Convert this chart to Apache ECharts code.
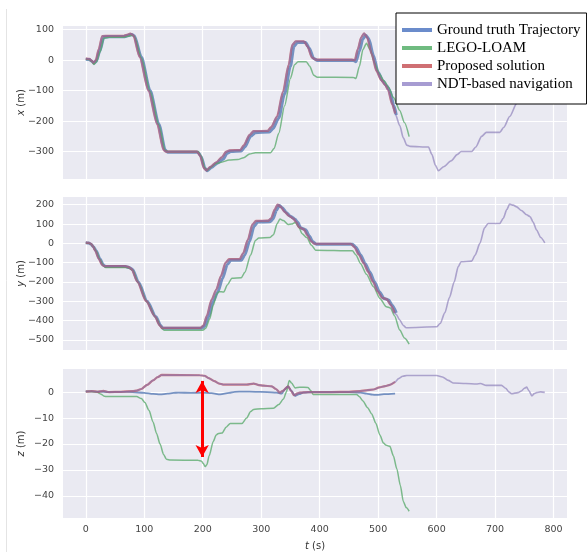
<!DOCTYPE html>
<html><head><meta charset="utf-8">
<script src="https://cdn.jsdelivr.net/npm/echarts@6/dist/echarts.min.js"></script>
<style>html,body{margin:0;padding:0;background:#fff}#c{width:587px;height:552px}</style>
</head><body><div id="c"></div>
<script>
// ---------- data ----------
const seriesNames = ['Ground truth Trajectory', 'LEGO-LOAM', 'Proposed solution', 'NDT-based navigation'];
const xTicks = [0, 100, 200, 300, 400, 500, 600, 700, 800];
const xPosTicks = [-300, -200, -100, 0, 100];
const yPosTicks = [-500, -400, -300, -200, -100, 0, 100, 200];
const zPosTicks = [-40, -30, -20, -10, 0];

// x(t)
const gtX = [[0,3],[6,2],[10,-3],[14,-10],[18,-4],[24,30],[31,75],[40,77],[65,77],[72,80],[79,84],[83,80],[95,10],[110,-100],[125,-210],[136,-295],[140,-302],[192,-302],[197,-315],[204,-355],[208,-363],[215,-352],[225,-338],[235,-325],[242,-305],[248,-300],[266,-298],[272,-285],[282,-250],[290,-238],[314,-236],[320,-225],[330,-190],[340,-110],[350,-20],[356,45],[362,58],[376,58],[382,40],[390,5],[396,-1],[458,-1],[462,-5],[468,30],[474,70],[479,82],[484,70],[492,15],[500,-40],[508,-68],[515,-85],[520,-100],[527,-150],[531,-180]];
const lgX = [[0,3],[6,2],[10,-4],[14,-14],[18,-6],[24,25],[31,72],[40,75],[65,75],[72,78],[79,82],[83,78],[95,8],[110,-102],[125,-212],[136,-296],[140,-300],[192,-300],[197,-314],[204,-355],[208,-362],[215,-350],[222,-340],[232,-335],[245,-328],[260,-326],[270,-320],[280,-308],[290,-304],[316,-304],[322,-290],[330,-240],[340,-150],[350,-60],[357,-15],[363,-5],[377,-5],[383,-20],[390,-50],[396,-56],[458,-57],[462,-60],[468,-20],[474,35],[480,55],[486,35],[494,-10],[502,-45],[510,-68],[518,-90],[526,-122],[537,-165],[545,-205],[553,-251]];
const prX = [[0,5],[6,4],[10,-2],[13,-8],[17,0],[22,35],[28,79],[40,80],[65,80],[70,83],[76,87],[81,82],[92,10],[107,-100],[122,-210],[133,-295],[137,-300],[190,-300],[195,-312],[202,-355],[206,-362],[213,-350],[223,-335],[233,-318],[240,-300],[246,-296],[264,-295],[270,-280],[280,-245],[287,-233],[311,-232],[317,-220],[327,-185],[337,-105],[347,-15],[353,50],[359,62],[373,62],[379,45],[387,8],[393,2],[455,2],[460,0],[465,35],[471,75],[476,88],[481,75],[489,20],[497,-35],[505,-65],[512,-82],[517,-98],[524,-145],[529,-175]];
const ndtXTail = [[537,-215],[543,-255],[549,-279],[555,-283],[586,-285],[592,-310],[598,-345],[603,-363],[612,-350],[625,-330],[635,-310],[642,-300],[660,-300],[667,-285],[677,-250],[685,-237],[708,-237],[715,-220],[725,-185],[737,-142],[745,-90],[752,-20],[758,50],[764,62],[772,60],[778,30],[785,5]];

// y(t)
const gtY = [[0,3],[5,2],[9,-5],[13,-17],[18,-40],[24,-80],[30,-112],[34,-120],[68,-120],[74,-125],[80,-135],[90,-200],[105,-300],[120,-380],[128,-425],[132,-440],[198,-440],[203,-430],[210,-380],[218,-300],[226,-250],[234,-180],[242,-110],[248,-88],[266,-88],[272,-60],[280,10],[288,90],[294,110],[315,112],[320,125],[326,170],[331,196],[336,185],[343,160],[350,140],[358,125],[362,110],[368,80],[376,70],[382,40],[388,10],[394,-4],[456,-4],[462,-20],[470,-60],[478,-105],[486,-150],[494,-200],[502,-250],[510,-285],[518,-293],[524,-320],[531,-360]];
const lgY = [[0,3],[5,2],[9,-5],[13,-17],[18,-42],[24,-82],[30,-115],[34,-125],[68,-125],[74,-128],[80,-138],[90,-205],[105,-305],[120,-385],[128,-430],[134,-450],[200,-450],[205,-440],[212,-390],[218,-320],[224,-262],[228,-250],[236,-252],[242,-215],[250,-180],[266,-178],[272,-150],[282,-60],[290,15],[296,28],[315,30],[321,45],[327,100],[332,126],[338,118],[346,98],[352,100],[358,108],[364,85],[370,50],[378,30],[386,-10],[393,-35],[456,-38],[462,-60],[470,-105],[480,-160],[492,-224],[503,-285],[514,-328],[521,-334],[528,-375],[537,-449],[545,-490],[553,-521]];
const prY = [[0,4],[5,3],[9,-3],[12,-14],[16,-38],[22,-80],[28,-112],[32,-118],[66,-118],[72,-122],[78,-132],[88,-198],[103,-298],[118,-378],[126,-423],[130,-437],[196,-437],[201,-426],[207,-375],[215,-292],[223,-240],[231,-170],[239,-100],[245,-82],[263,-82],[269,-52],[277,18],[285,98],[291,116],[312,118],[317,130],[323,175],[328,201],[333,190],[340,163],[347,143],[355,128],[359,113],[365,83],[373,72],[379,42],[385,12],[391,-2],[453,-2],[459,-18],[467,-58],[475,-102],[483,-148],[491,-198],[499,-248],[507,-282],[515,-290],[521,-318],[528,-360]];
const ndtYTail = [[531,-368],[537,-397],[543,-425],[548,-437],[600,-432],[606,-415],[614,-360],[622,-280],[630,-200],[637,-120],[642,-95],[660,-92],[666,-60],[674,0],[682,80],[688,103],[708,103],[714,130],[720,175],[725,203],[731,198],[737,189],[745,170],[754,148],[760,138],[765,110],[771,69],[778,30],[785,3]];

// z(t)
const gtZ = [[0,0.3],[20,0.2],[40,0],[60,0.1],[80,0],[100,-0.3],[115,-0.7],[127,-0.9],[140,-0.6],[150,-0.3],[158,-0.2],[180,-0.3],[200,-0.2],[215,-0.4],[230,-0.9],[245,-0.3],[255,0.1],[270,0.2],[290,0.1],[310,0],[326,-0.2],[335,-0.6],[341,1.2],[346,2.2],[352,0.5],[358,-1.5],[365,-0.8],[372,-0.2],[390,0],[420,0],[450,0],[470,-0.2],[480,-0.6],[490,-1],[497,-1.1],[510,-0.8],[529,-0.6]];
const lgZ = [[0,0.2],[10,0.2],[19,0],[26,-0.8],[32,-1.6],[36,-1.7],[87,-1.7],[95,-2.5],[101,-4],[108,-7],[115,-11.5],[121,-15.9],[127,-20],[133,-24],[138,-25.9],[145,-26.2],[192,-26.3],[198,-26.6],[201,-27.5],[204,-28.7],[207,-28],[211,-24.5],[218,-19],[223,-16.5],[227,-15.9],[233,-15.8],[240,-13.5],[247,-12.1],[267,-12.1],[275,-10],[282,-7.5],[287,-6.7],[300,-6.4],[321,-6.2],[330,-4.8],[338,-2.7],[343,0],[348,4.5],[352,3.5],[358,1.6],[366,1.9],[380,1.8],[385,0.5],[389,-0.9],[463,-0.9],[468,-1.8],[474,-3.4],[482,-6],[489,-8.4],[496,-12],[503,-16.5],[509,-19.6],[514,-20.5],[520,-20.9],[526,-24.5],[532,-29.6],[538,-36],[543,-42.1],[548,-44.5],[553,-45.9]];
const prZ = [[0,0.2],[10,0.4],[20,0.1],[30,0.5],[40,0],[60,0.1],[80,0.4],[87,0.6],[95,1.2],[105,2.8],[115,4.5],[123,5.8],[130,6.6],[195,6.5],[203,6.3],[210,5.4],[220,4.2],[228,3.3],[235,2.9],[275,2.9],[287,3.3],[296,2.7],[304,2.5],[318,2.2],[325,1.2],[332,-0.2],[337,0.5],[346,2.2],[351,0.5],[356,-1.2],[362,-0.5],[366,-0.2],[380,0],[420,0],[450,0.1],[469,0.4],[480,0.7],[492,1.0],[502,1.8],[512,2.3],[520,2.8],[529,3.9]];
const ndtZTail = [[535,5.2],[542,6.1],[549,6.4],[600,6.4],[610,5.8],[620,4.5],[628,3.5],[650,3.3],[668,3.1],[675,3.3],[685,2.6],[711,2.6],[718,1.5],[724,0],[728,-0.6],[739,-0.2],[745,0.4],[750,1.5],[754,1.9],[758,0.5],[763,-1.5],[767,-0.6],[771,-0.2],[778,0.1],[785,-0.1]];

// annotation arrow: [t, zTop, zBottom]
const arrowSpan = [199, 4.3, -25];

// ---------- build ----------
const ndtX = prX.concat(ndtXTail);
const ndtY = prY.concat(ndtYTail);
const ndtZ = prZ.concat(ndtZTail);

const colors = ['#4C72B0', '#55A868', '#C44E52', '#8172B2'];
const legendColors = ['#6b8ccb', '#6fbb80', '#cf6f73', '#a79cd2'];
const widthsXY = [3, 1.5, 2.2, 1.6];
const widthsZ = [1.8, 1.5, 2.2, 1.6];
const opac = [0.75, 0.75, 0.7, 0.6];

const tickFont = {fontFamily: 'DejaVu Sans', fontSize: 9.5, color: '#444'};
const minus = v => String(v).replace('-', '\u2212');

const grids = [
  {left: 63, top: 26, width: 504, height: 153},
  {left: 63, top: 197, width: 504, height: 153},
  {left: 63, top: 369, width: 504, height: 153}
].map(g => Object.assign(g, {show: true, backgroundColor: '#EAEAF2', borderWidth: 0, containLabel: false}));

const split = {show: true, lineStyle: {color: '#ffffff', width: 1.2}};
const nameStyle = {fontFamily: 'DejaVu Sans', fontSize: 10, color: '#333',
  rich: {i: {fontStyle: 'italic', fontFamily: 'DejaVu Sans', fontSize: 10, color: '#333'}}};

const xAxes = [0, 1, 2].map(i => ({
  type: 'value', gridIndex: i, min: -39, max: 823,
  axisLine: {show: false},
  axisTick: {show: false, customValues: xTicks},
  axisLabel: Object.assign({show: i === 2, customValues: xTicks, margin: 7, formatter: minus}, tickFont),
  splitLine: split,
  name: i === 2 ? '{i|t} (s)' : '',
  nameLocation: 'middle', nameGap: 23, nameMoveOverlap: false,
  nameTextStyle: nameStyle
}));

const yDefs = [
  {min: -390, max: 112, ticks: xPosTicks, name: '{i|x} (m)'},
  {min: -552, max: 240, ticks: yPosTicks, name: '{i|y} (m)'},
  {min: -48.5, max: 8.9, ticks: zPosTicks, name: '{i|z} (m)'}
];
const yAxes = yDefs.map((d, i) => ({
  type: 'value', gridIndex: i, min: d.min, max: d.max,
  axisLine: {show: false},
  axisTick: {show: false, customValues: d.ticks},
  axisLabel: Object.assign({customValues: d.ticks, margin: 9, formatter: minus}, tickFont),
  splitLine: split,
  name: d.name, nameLocation: 'middle', nameGap: 37, nameRotate: 90, nameMoveOverlap: false,
  nameTextStyle: nameStyle
}));

const sets = [[gtX, lgX, prX, ndtX], [gtY, lgY, prY, ndtY], [gtZ, lgZ, prZ, ndtZ]];
const series = [];
sets.forEach((arr, gi) => {
  arr.forEach((data, si) => {
    series.push({
      type: 'line', name: seriesNames[si], xAxisIndex: gi, yAxisIndex: gi,
      data: data, showSymbol: false, symbol: 'none', smooth: 0.25, smoothMonotone: 'x',
      silent: true, animation: false, z: 2, zlevel: 0,
      itemStyle: {color: colors[si]},
      lineStyle: {color: colors[si], width: gi === 2 ? widthsZ[si] : widthsXY[si], opacity: opac[si]}
    });
  });
});
series.push({
  type: 'line', name: 'arrow', xAxisIndex: 2, yAxisIndex: 2, data: [], z: 3, silent: true, animation: false,
  markLine: {
    silent: true, animation: false, symbol: ['arrow', 'arrow'], symbolSize: [10, 12],
    label: {show: false},
    lineStyle: {color: '#ff0000', width: 3, type: 'solid'},
    data: [[{coord: [arrowSpan[0], arrowSpan[1]]}, {coord: [arrowSpan[0], arrowSpan[2]]}]]
  }
});

const chart = echarts.init(document.getElementById('c'), null, {renderer: 'canvas'});
chart.setOption({
  animation: false,
  backgroundColor: '#ffffff',
  grid: grids, xAxis: xAxes, yAxis: yAxes, series: series,
  legend: {
    orient: 'vertical', left: 396, top: 13, selectedMode: false, z: 50,
    backgroundColor: '#ffffff', borderColor: '#000000', borderWidth: 1, borderRadius: 0,
    padding: [9, 6, 12, 6], itemGap: 2, itemWidth: 30, itemHeight: 4, icon: 'rect',
    textStyle: {fontFamily: 'Liberation Serif', fontSize: 15, color: '#000', lineHeight: 16},
    data: seriesNames.map((n, i) => ({name: n, icon: 'rect', itemStyle: {color: legendColors[i], opacity: 1}}))
  },
  graphic: [{type: 'line', shape: {x1: 6.5, y1: 9, x2: 6.5, y2: 552}, style: {stroke: '#e4e4e4', lineWidth: 1}, silent: true}]
});
</script></body></html>
